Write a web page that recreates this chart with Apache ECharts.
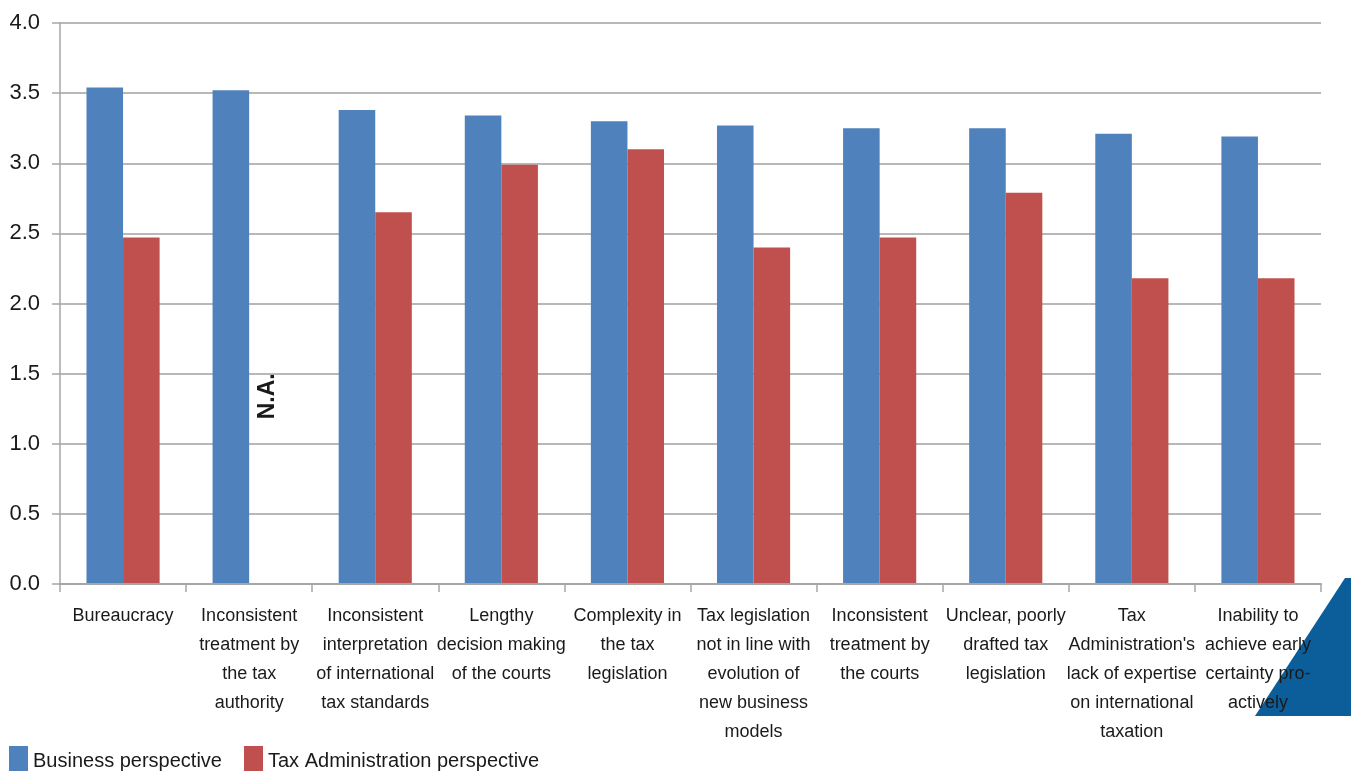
<!DOCTYPE html>
<html>
<head>
<meta charset="utf-8">
<script src="https://cdn.jsdelivr.net/npm/echarts@6/dist/echarts.min.js"></script>
<style>
html,body{margin:0;padding:0;background:#fff;}
#chart{width:1351px;height:771px;}
</style>
</head>
<body>
<div id="chart"></div>
<script>
const categories = [
  "Bureaucracy",
  "Inconsistent\ntreatment by\nthe tax\nauthority",
  "Inconsistent\ninterpretation\nof international\ntax standards",
  "Lengthy\ndecision making\nof the courts",
  "Complexity in\nthe tax\nlegislation",
  "Tax legislation\nnot in line with\nevolution of\nnew business\nmodels",
  "Inconsistent\ntreatment by\nthe courts",
  "Unclear, poorly\ndrafted tax\nlegislation",
  "Tax\nAdministration's\nlack of expertise\non international\ntaxation",
  "Inability to\nachieve early\ncertainty pro-\nactively"
];
const seriesNames = ["Business perspective", "Tax Administration perspective"];
const businessValues = [3.54, 3.52, 3.38, 3.34, 3.30, 3.27, 3.25, 3.25, 3.21, 3.19];
const taxAdminValues = [2.47, null, 2.65, 2.99, 3.10, 2.40, 2.47, 2.79, 2.18, 2.18];
const naLabel = "N.A.";
const naIndex = 1;
const naValue = 1.21;

const chart = echarts.init(document.getElementById('chart'));
const font = '"Liberation Sans", Arial, sans-serif';
chart.setOption({
  animation: false,
  backgroundColor: '#ffffff',
  grid: { left: 60, right: 30, top: 23, bottom: 187, containLabel: false },
  legend: {
    left: 4, top: 741,
    itemWidth: 19, itemHeight: 30, itemGap: 22,
    icon: 'rect',
    textStyle: { fontFamily: font, fontSize: 20, color: '#1a1a1a', padding: [1, 0, 0, 0] },
    data: seriesNames
  },
  xAxis: {
    type: 'category',
    z: 5,
    data: categories,
    boundaryGap: true,
    axisLine: { lineStyle: { color: '#a6a6a6', width: 2 } },
    axisTick: { show: true, length: 8, lineStyle: { color: '#a6a6a6', width: 1.5 } },
    axisLabel: {
      interval: 0, margin: 18,
      fontFamily: font, fontSize: 18, lineHeight: 29, color: '#1a1a1a', align: 'center'
    }
  },
  yAxis: {
    type: 'value', min: 0, max: 4, interval: 0.5,
    axisLine: { show: true, lineStyle: { color: '#a6a6a6', width: 1.5 } },
    axisTick: { show: true, length: 8, lineStyle: { color: '#a6a6a6', width: 1.5 } },
    splitLine: { show: true, lineStyle: { color: '#b8b8b8', width: 2 } },
    axisLabel: {
      margin: 20, fontFamily: font, fontSize: 22, color: '#1a1a1a',
      formatter: v => v.toFixed(1)
    }
  },
  series: [
    {
      name: seriesNames[0], type: 'bar', data: businessValues,
      barGap: '0%', barCategoryGap: '42%',
      itemStyle: { color: '#4f81bd' }
    },
    {
      name: seriesNames[1], type: 'bar', data: taxAdminValues,
      itemStyle: { color: '#c0504d' },
      markPoint: {
        symbol: 'rect', symbolSize: 1,
        itemStyle: { color: 'rgba(0,0,0,0)' },
        data: [{
          coord: [naIndex, naValue],
          label: {
            show: true, formatter: naLabel, rotate: 90, position: 'inside',
            offset: [18, 0],
            fontFamily: font, fontSize: 23, fontWeight: 'bold', color: '#1a1a1a'
          }
        }]
      }
    }
  ],
  graphic: [{
    type: 'polygon', z: -10, silent: true,
    shape: { points: [[1345, 578], [1351, 578], [1351, 716], [1255, 716]] },
    style: { fill: '#0b5e99' }
  }]
});
</script>
</body>
</html>
